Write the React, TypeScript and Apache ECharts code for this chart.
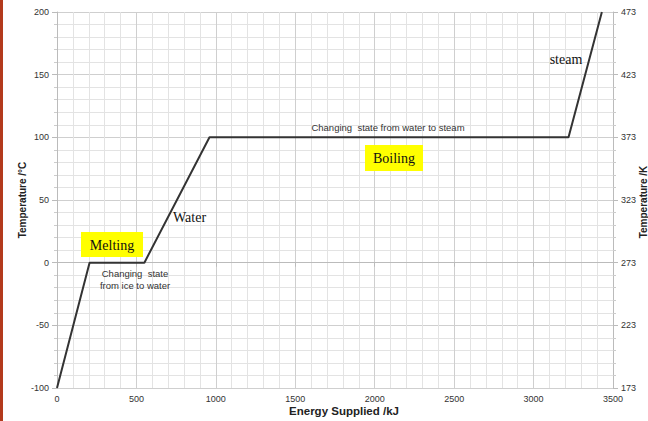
import React, { useEffect, useRef } from "react";
import * as echarts from "echarts";

const energyKJ = [0, 205, 550, 960, 3220, 3430];
const temperatureC = [-100, 0, 0, 100, 100, 200];
const xTicks = { min: 0, max: 3500, interval: 500 };
const yTicks = { min: -100, max: 200, interval: 50 };
const kelvinOffset = 273;

const W = 648;
const H = 421;
const GRID = { left: 57, right: 35, top: 12, bottom: 33 };

export default function App() {
  const ref = useRef<HTMLDivElement>(null);
  useEffect(() => {
    document.body.style.margin = "0";
    const chart = echarts.init(ref.current!, null, { renderer: "svg" });
    const sans = "Liberation Sans, Arial, sans-serif";
    const serif = "Liberation Serif, Times New Roman, serif";
    const labelStyle = { color: "#333", fontSize: 9, fontFamily: sans };
    const Z = 100;
    chart.setOption({
      animation: false,
      backgroundColor: "#fff",
      grid: { ...GRID, containLabel: false },
      xAxis: {
        type: "value",
        min: xTicks.min,
        max: xTicks.max,
        interval: xTicks.interval,
        minorTick: { show: false },
        minorSplitLine: { show: true, lineStyle: { color: "#e3e3e3", width: 1 } },
        splitLine: { show: true, lineStyle: { color: "#cfcfcf", width: 1 } },
        axisLine: { show: true, lineStyle: { color: "#bbb" } },
        axisTick: { show: true, length: 4, lineStyle: { color: "#bbb" } },
        axisLabel: { ...labelStyle, margin: 6, formatter: (v: number) => String(v) },
      },
      yAxis: [
        {
          type: "value",
          min: yTicks.min,
          max: yTicks.max,
          interval: yTicks.interval,
          minorTick: { show: true, splitNumber: 5, length: 3, lineStyle: { color: "#ccc" } },
          minorSplitLine: { show: true, lineStyle: { color: "#e3e3e3", width: 1 } },
          splitLine: { show: true, lineStyle: { color: "#cfcfcf", width: 1 } },
          axisLine: { show: true, lineStyle: { color: "#bbb" } },
          axisTick: { show: true, length: 5, lineStyle: { color: "#bbb" } },
          axisLabel: { ...labelStyle, margin: 8, formatter: (v: number) => String(v) },
        },
        {
          type: "value",
          position: "right",
          min: yTicks.min,
          max: yTicks.max,
          interval: yTicks.interval,
          minorTick: { show: true, splitNumber: 5, length: 3, lineStyle: { color: "#ccc" } },
          splitLine: { show: false },
          axisLine: { show: true, lineStyle: { color: "#bbb" } },
          axisTick: { show: true, length: 5, lineStyle: { color: "#bbb" } },
          axisLabel: { ...labelStyle, margin: 8, formatter: (v: number) => String(v + kelvinOffset) },
        },
      ],
      series: [
        {
          type: "line",
          data: energyKJ.map((e, i) => [e, temperatureC[i]]),
          showSymbol: false,
          lineStyle: { color: "#333", width: 2 },
          clip: false,
        },
      ],
      graphic: [
        { type: "rect", z: Z, shape: { x: 0, y: 0, width: 3, height: H }, style: { fill: "#b33a1c" } },
        {
          type: "text", z: Z, x: 22, y: 200, rotation: Math.PI / 2,
          style: { text: "Temperature /°C", font: `bold 10px ${sans}`, fill: "#222", align: "center", verticalAlign: "middle" },
        },
        {
          type: "text", z: Z, x: 643, y: 202, rotation: Math.PI / 2,
          style: { text: "Temperature /K", font: `bold 10px ${sans}`, fill: "#222", align: "center", verticalAlign: "middle" },
        },
        {
          type: "text", z: Z, x: 344, y: 411,
          style: { text: "Energy Supplied /kJ", font: `bold 11.5px ${sans}`, fill: "#222", align: "center", verticalAlign: "middle" },
        },
        { type: "rect", z: Z, shape: { x: 81, y: 232, width: 62, height: 25 }, style: { fill: "#ffff00" } },
        {
          type: "text", z: Z + 1, x: 112, y: 245,
          style: { text: "Melting", font: `14px ${serif}`, fill: "#111", align: "center", verticalAlign: "middle" },
        },
        {
          type: "text", z: Z, x: 173, y: 217,
          style: { text: "Water", font: `14px ${serif}`, fill: "#111", align: "left", verticalAlign: "middle" },
        },
        {
          type: "text", z: Z, x: 135, y: 273,
          style: { text: "Changing  state", font: `9.5px ${sans}`, fill: "#333", align: "center", verticalAlign: "middle" },
        },
        {
          type: "text", z: Z, x: 135, y: 285,
          style: { text: "from ice to water", font: `9.5px ${sans}`, fill: "#333", align: "center", verticalAlign: "middle" },
        },
        {
          type: "text", z: Z, x: 388, y: 127,
          style: { text: "Changing  state from water to steam", font: `9.5px ${sans}`, fill: "#333", align: "center", verticalAlign: "middle" },
        },
        { type: "rect", z: Z, shape: { x: 365, y: 145, width: 58, height: 26 }, style: { fill: "#ffff00" } },
        {
          type: "text", z: Z + 1, x: 394, y: 158,
          style: { text: "Boiling", font: `14px ${serif}`, fill: "#111", align: "center", verticalAlign: "middle" },
        },
        {
          type: "text", z: Z, x: 566, y: 59,
          style: { text: "steam", font: `14px ${serif}`, fill: "#111", align: "center", verticalAlign: "middle" },
        },
      ],
    });
    return () => chart.dispose();
  }, []);
  return <div ref={ref} style={{ width: W, height: H, position: "absolute", left: 0, top: 0 }} />;
}
